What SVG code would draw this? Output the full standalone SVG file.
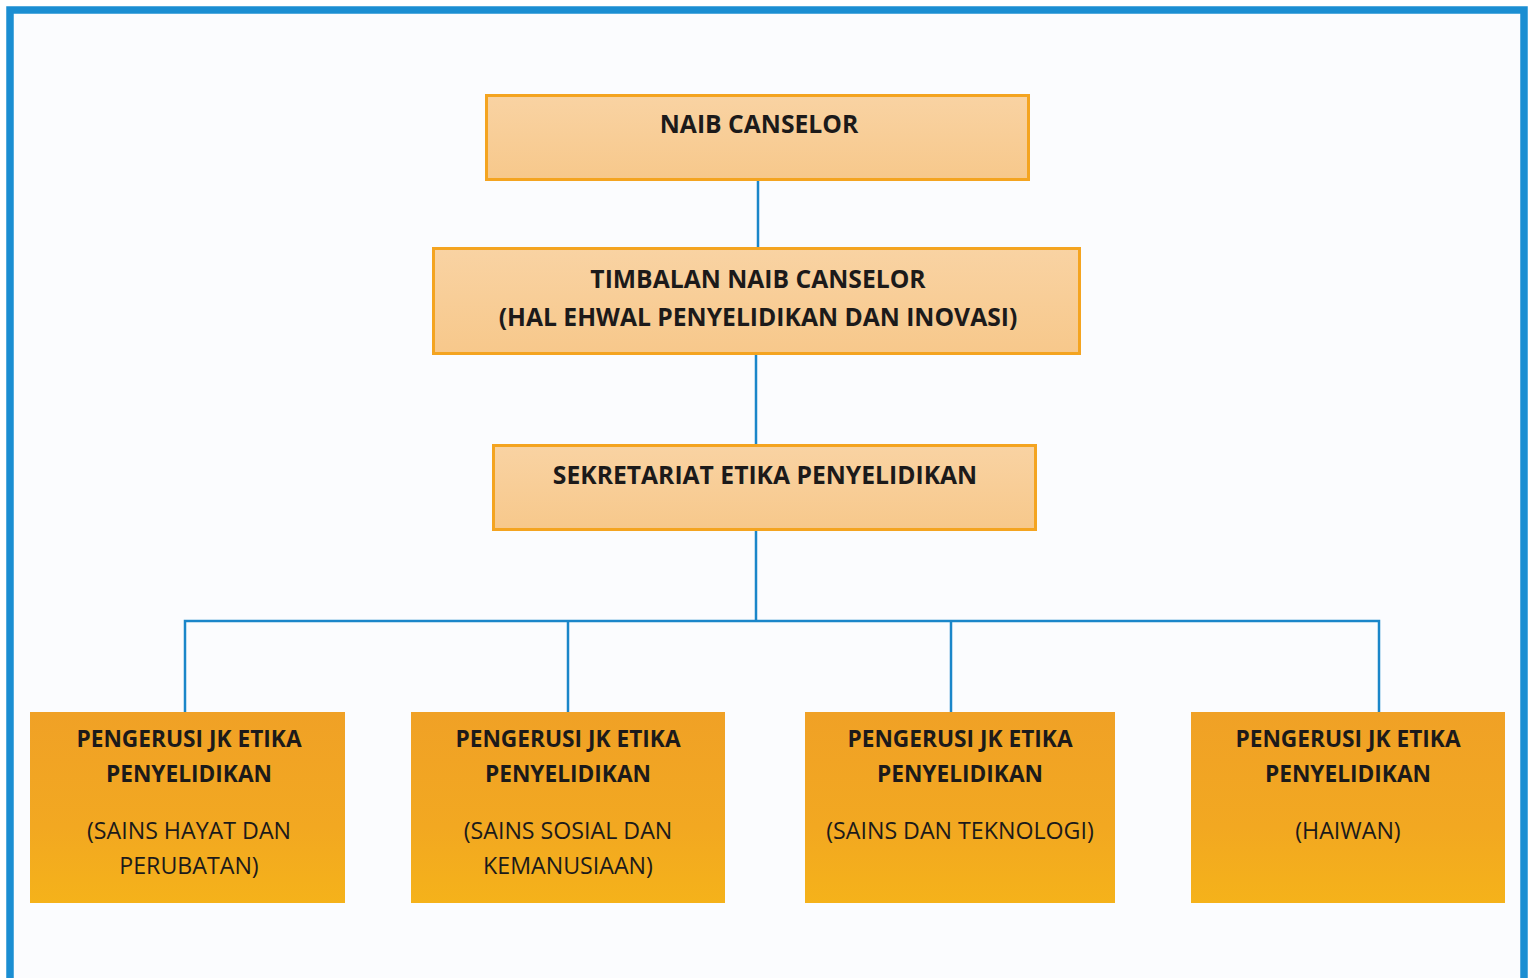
<svg xmlns="http://www.w3.org/2000/svg" width="1530" height="978" viewBox="0 0 1530 978">
<defs>
<linearGradient id="gTop" x1="0" y1="0" x2="0" y2="1">
<stop offset="0" stop-color="#f9d3a3"/>
<stop offset="1" stop-color="#f7c88b"/>
</linearGradient>
<linearGradient id="gBot" x1="0" y1="0" x2="0" y2="1">
<stop offset="0" stop-color="#f0a126"/>
<stop offset="0.6" stop-color="#f2a821"/>
<stop offset="1" stop-color="#f5b21a"/>
</linearGradient>
<style>
.top{fill:url(#gTop);stroke:#f4a420;stroke-width:3}
.bot{fill:url(#gBot);stroke:none}
.conn{stroke:#1a86c9;stroke-width:2.5;fill:none}
.t{font-family:"Open Sans","Liberation Sans",sans-serif;fill:#1c1a1a;text-anchor:middle}
.tb{font-weight:bold;font-size:24.7px}
.sb{font-weight:bold;font-size:22.7px}
.sr{font-weight:normal;font-size:23.2px}
</style>
</defs>
<rect x="0" y="0" width="1530" height="978" fill="#ffffff"/>
<rect x="10" y="10" width="1514" height="1000" fill="#fbfcfe" stroke="#1b8ed2" stroke-width="7.5"/>
<g id="connectors">
<path class="conn" d="M758 179V248"/>
<path class="conn" d="M756 353V445"/>
<path class="conn" d="M756 529V621"/>
<path class="conn" d="M185 712V621H1379V712"/>
<path class="conn" d="M568 621V712"/>
<path class="conn" d="M951 621V712"/>
</g>
<g id="naib-canselor">
<rect class="top" x="486.5" y="95.5" width="542" height="84"/>
<text class="t tb" x="759" y="133">NAIB CANSELOR</text>
</g>
<g id="timbalan-naib-canselor">
<rect class="top" x="433.5" y="248.5" width="646" height="105"/>
<text class="t tb" x="758" y="288">TIMBALAN NAIB CANSELOR</text>
<text class="t tb" x="758" y="326">(HAL EHWAL PENYELIDIKAN DAN INOVASI)</text>
</g>
<g id="sekretariat">
<rect class="top" x="493.5" y="445.5" width="542" height="84"/>
<text class="t tb" x="765" y="484">SEKRETARIAT ETIKA PENYELIDIKAN</text>
</g>
<g id="jk-sains-hayat">
<rect class="bot" x="30" y="712" width="315" height="191"/>
<text class="t sb" x="189" y="747">PENGERUSI JK ETIKA</text>
<text class="t sb" x="189" y="782">PENYELIDIKAN</text>
<text class="t sr" x="189" y="839">(SAINS HAYAT DAN</text>
<text class="t sr" x="189" y="874">PERUBATAN)</text>
</g>
<g id="jk-sains-sosial">
<rect class="bot" x="411" y="712" width="314" height="191"/>
<text class="t sb" x="568" y="747">PENGERUSI JK ETIKA</text>
<text class="t sb" x="568" y="782">PENYELIDIKAN</text>
<text class="t sr" x="568" y="839">(SAINS SOSIAL DAN</text>
<text class="t sr" x="568" y="874">KEMANUSIAAN)</text>
</g>
<g id="jk-sains-teknologi">
<rect class="bot" x="805" y="712" width="310" height="191"/>
<text class="t sb" x="960" y="747">PENGERUSI JK ETIKA</text>
<text class="t sb" x="960" y="782">PENYELIDIKAN</text>
<text class="t sr" x="960" y="839">(SAINS DAN TEKNOLOGI)</text>
</g>
<g id="jk-haiwan">
<rect class="bot" x="1191" y="712" width="314" height="191"/>
<text class="t sb" x="1348" y="747">PENGERUSI JK ETIKA</text>
<text class="t sb" x="1348" y="782">PENYELIDIKAN</text>
<text class="t sr" x="1348" y="839">(HAIWAN)</text>
</g>
</svg>
